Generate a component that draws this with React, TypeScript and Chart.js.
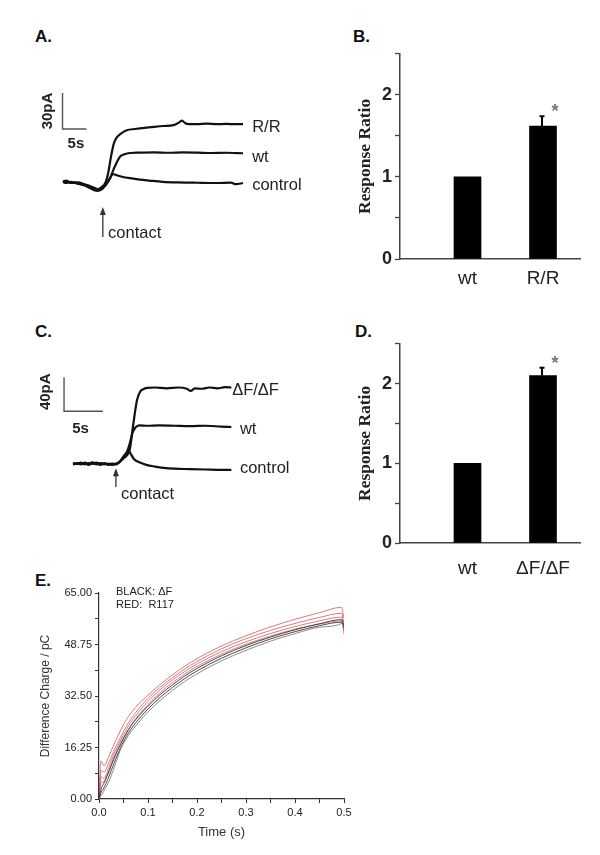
import React, { useEffect, useRef } from "react";
import { Chart, registerables } from "chart.js";
Chart.register(...registerables);

const SANS = "'Liberation Sans', Arial, sans-serif";
const SERIF = "'Liberation Serif', 'Times New Roman', serif";

// ---------- Panel A: current traces (time s, current pA) ----------
const A_RR_T = [0, 0.6, 1.5, 3, 4.5, 5.5, 6.5, 7.3, 8.2, 8.9, 9.4, 10, 10.6, 11.2, 12, 13.3, 15, 17, 19, 21, 23, 24.2, 24.8, 25.4, 26.2, 28, 30, 32, 34, 36, 37.5];
const A_RR_V = [1, 2, 0.5, 0, -1.5, -3, -4.5, -5, -3, 1, 8, 22, 33, 38, 41, 44, 45, 46, 46.8, 47.5, 48.2, 50.5, 52, 50, 49, 49, 49.4, 49, 49.2, 49, 49];
const A_WT_T = [0, 0.6, 1.5, 3, 4.5, 5.5, 6.5, 7.3, 8.2, 9, 9.8, 10.6, 11.3, 11.9, 12.8, 14, 16, 19, 22, 25, 28, 31, 34, 37.5];
const A_WT_V = [0.5, 1.5, 0, 0.5, -1, -2.5, -4, -5.5, -4, -1, 4, 12, 18, 22, 24, 25, 25.3, 25.5, 25.2, 25.5, 25.3, 25, 25.2, 24.8];
const A_CTL_T = [0, 0.6, 1.5, 3, 4.5, 5.5, 6.5, 7.3, 8.2, 9, 9.8, 10.4, 11.2, 12.5, 14, 16, 18, 20.8, 24, 28, 32, 35, 36, 37.5];
const A_CTL_V = [1, 0, 1, -0.5, -2, -4, -6, -6.5, -5, -1, 4, 7.5, 6.5, 5, 4, 2.8, 2, 1, 0.5, 0.2, 0, 0.3, -1, 0];
const A_SCALEBAR_T = [-0.1, -0.1, 4.9]; // 5 s
const A_SCALEBAR_V = [75, 45, 45]; // 30 pA

// ---------- Panel C: current traces ----------
const C_DF_T = [0, 0.5, 1, 1.5, 2, 2.5, 3, 3.5, 4, 4.5, 5, 5.5, 5.9, 6.4, 6.9, 7.3, 7.7, 8.2, 8.6, 9.0, 9.5, 10.5, 12, 13.5, 14.6, 15.1, 15.6, 16.5, 17.5, 18.5, 19.5, 20.3];
const C_DF_V = [0, 1, -0.5, 1.5, 0, 2, 0.5, 1, -0.5, 0.5, -1, 0, 2, 6, 10, 18, 45, 75, 85, 88, 89.5, 90, 89, 90, 88.5, 86, 89, 88.5, 90, 89, 90.5, 90];
const C_WT_T = [0, 0.5, 1, 1.5, 2, 2.5, 3, 3.5, 4, 4.5, 5, 5.5, 5.9, 6.4, 6.9, 7.3, 7.6, 8.0, 8.5, 9.5, 11, 13, 15, 17, 19, 20.3];
const C_WT_V = [1, 0, 1.5, -0.5, 1, 0, 1.5, -1, 0.5, 0, 0.5, -0.5, 2, 7, 14, 25, 36, 43, 45.5, 45, 45.5, 45, 44.5, 45, 44, 43.5];
const C_CTL_T = [0, 0.5, 1, 1.5, 2, 2.5, 3, 3.5, 4, 4.5, 5, 5.5, 5.9, 6.4, 6.9, 7.1, 7.4, 7.8, 8.5, 9.4, 10.5, 11.6, 13, 15, 17, 19, 20.3];
const C_CTL_V = [-0.5, 0.5, 0, 1, -1, 1, -0.5, 0, 1, -1, 0, 0.5, 2, 8, 14, 16, 12, 6, 2, -1, -3, -4.5, -5.5, -6, -6.5, -7, -7];
const C_SCALEBAR_T = [-1.15, -1.15, 3.85]; // 5 s
const C_SCALEBAR_V = [102, 62, 62]; // 40 pA

// ---------- Panel B: response ratio ----------
const B_CATEGORIES = ["wt", "R/R"];
const B_POSITIONS = [1, 2];
const B_VALUES = [1.0, 1.62];
const B_ERRORS = [0, 0.12];
const B_SIGNIFICANT = [false, true];

// ---------- Panel D: response ratio ----------
const D_CATEGORIES = ["wt", "\u0394F/\u0394F"];
const D_POSITIONS = [1, 2];
const D_VALUES = [1.0, 2.1];
const D_ERRORS = [0, 0.1];
const D_SIGNIFICANT = [false, true];

const RATIO_TICKS = [0, 0.5, 1, 1.5, 2, 2.5];

// ---------- Panel E: difference charge ----------
const E_TIME = [0, 0.004, 0.01, 0.02, 0.03, 0.045, 0.06, 0.08, 0.1, 0.125, 0.15, 0.175, 0.2, 0.25, 0.3, 0.35, 0.4, 0.45, 0.495, 0.5];
const E_RED_1 = [0, 12, 10.5, 13.5, 17, 22, 26, 29.8, 32.8, 36.2, 39.2, 41.9, 44.3, 48.3, 51.5, 54.3, 56.7, 58.8, 60.5, 57];
const E_RED_2 = [0, 9, 8.5, 11.5, 15, 19.8, 24, 28.3, 31.8, 35.3, 38.3, 41, 43.4, 47.4, 50.6, 53.2, 55.4, 57.3, 58.6, 55];
const E_RED_3 = [0, 7, 6.5, 10, 14, 18.8, 23, 27.3, 30.8, 34.5, 37.6, 40.2, 42.6, 46.5, 49.6, 52.2, 54.4, 56.2, 57.4, 52];
const E_RED_4 = [0, 5, 5.5, 9, 13, 18, 22, 26.3, 29.8, 33.6, 36.7, 39.4, 41.8, 45.7, 48.8, 51.4, 53.6, 55.2, 56.2, 53];
const E_BLACK_1 = [0, 3, 5, 8.5, 12.5, 17.5, 21.8, 26, 29.3, 33, 36, 38.8, 41.2, 45.2, 48.4, 51.1, 53.4, 55.3, 56.6, 54];
const E_BLACK_2 = [0, 2, 3.5, 7, 11, 16.5, 20.8, 25, 28.4, 32.1, 35.2, 38, 40.4, 44.4, 47.7, 50.5, 52.8, 54.7, 55.8, 55];
const E_BLACK_3 = [0, 1, 2.5, 5.5, 9.5, 16, 20, 24, 27.5, 31.1, 34.3, 37.1, 39.5, 43.6, 46.9, 49.8, 52.2, 54.2, 55.4, 56.5];
const E_X_TICKS = [0, 0.05, 0.1, 0.15, 0.2, 0.25, 0.3, 0.35, 0.4, 0.45, 0.5];
const E_Y_TICKS = [0, 8.125, 16.25, 24.375, 32.5, 40.625, 48.75, 56.875, 65];

const xy = (t: number[], v: number[]) => t.map((x, i) => ({ x, y: v[i] }));

type TextItem = { x: number; y: number; text: string; font: string; align?: CanvasTextAlign; rotate?: number; color?: string };
type ArrowItem = { x: number; from: number; to: number };

function makeAnnot(texts: TextItem[], arrows: ArrowItem[]) {
  return {
    id: "annot",
    afterDatasetsDraw(chart: any) {
      const ctx = chart.ctx as CanvasRenderingContext2D;
      const xs = chart.scales.x;
      const ys = chart.scales.y;
      ctx.save();
      arrows.forEach((a) => {
        const x = xs.getPixelForValue(a.x);
        const y0 = ys.getPixelForValue(a.from);
        const y1 = ys.getPixelForValue(a.to);
        ctx.strokeStyle = "#333";
        ctx.fillStyle = "#333";
        ctx.lineWidth = 1.3;
        ctx.beginPath();
        ctx.moveTo(x, y0);
        ctx.lineTo(x, y1 + 5);
        ctx.stroke();
        ctx.beginPath();
        ctx.moveTo(x, y1);
        ctx.lineTo(x - 3, y1 + 8);
        ctx.lineTo(x + 3, y1 + 8);
        ctx.closePath();
        ctx.fill();
      });
      texts.forEach((t) => {
        const x = xs.getPixelForValue(t.x);
        const y = ys.getPixelForValue(t.y);
        ctx.save();
        ctx.translate(x, y);
        if (t.rotate) ctx.rotate(t.rotate);
        ctx.font = t.font;
        ctx.fillStyle = t.color || "#222";
        ctx.textAlign = t.align || "left";
        ctx.textBaseline = "middle";
        ctx.fillText(t.text, 0, 0);
        ctx.restore();
      });
      ctx.restore();
    },
  };
}

function traceConfig(
  series: { t: number[]; v: number[] }[],
  bar: { t: number[]; v: number[] },
  xr: [number, number],
  yr: [number, number],
  texts: TextItem[],
  arrows: ArrowItem[]
): any {
  return {
    type: "line",
    data: {
      datasets: [
        ...series.map((s) => ({
          data: xy(s.t, s.v),
          borderColor: "#111",
          borderWidth: 2.2,
          pointRadius: 0,
          cubicInterpolationMode: "monotone",
          fill: false,
        })),
        {
          data: xy(bar.t, bar.v),
          borderColor: "#555",
          borderWidth: 1.4,
          pointRadius: 0,
          tension: 0,
          fill: false,
        },
      ],
    },
    options: {
      animation: false,
      responsive: false,
      events: [],
      layout: { padding: 0 },
      plugins: { legend: { display: false }, tooltip: { enabled: false } },
      scales: {
        x: { type: "linear", display: false, min: xr[0], max: xr[1] },
        y: { type: "linear", display: false, min: yr[0], max: yr[1] },
      },
    },
    plugins: [makeAnnot(texts, arrows)],
  };
}

function makeErrorBars(pos: number[], vals: number[], errs: number[], sig: boolean[]) {
  return {
    id: "errbars",
    afterDatasetsDraw(chart: any) {
      const ctx = chart.ctx as CanvasRenderingContext2D;
      const xs = chart.scales.x;
      const ys = chart.scales.y;
      ctx.save();
      pos.forEach((p, i) => {
        const x = xs.getPixelForValue(p) - 1;
        const yTop = ys.getPixelForValue(vals[i]);
        const yErr = ys.getPixelForValue(vals[i] + errs[i]);
        if (errs[i] > 0) {
          ctx.strokeStyle = "#000";
          ctx.lineWidth = 2;
          ctx.beginPath();
          ctx.moveTo(x, yTop);
          ctx.lineTo(x, yErr);
          ctx.moveTo(x - 2.5, yErr);
          ctx.lineTo(x + 2.5, yErr);
          ctx.stroke();
        }
        if (sig[i]) {
          ctx.fillStyle = "#777";
          ctx.font = `bold 18px ${SANS}`;
          ctx.textAlign = "center";
          ctx.textBaseline = "middle";
          ctx.fillText("*", x + 13, yErr - 4);
        }
      });
      ctx.restore();
    },
  };
}

function barConfig(
  cats: string[],
  pos: number[],
  vals: number[],
  errs: number[],
  sig: boolean[],
  padTop: number,
  xHeight: number,
  labelPad: number
): any {
  return {
    type: "bar",
    data: {
      datasets: [
        {
          data: pos.map((x, i) => ({ x, y: vals[i] })),
          backgroundColor: "#000",
          borderWidth: 0,
          barThickness: 27,
        },
      ],
    },
    options: {
      animation: false,
      responsive: false,
      events: [],
      layout: { padding: { top: padTop, right: 20, left: 0, bottom: 0 } },
      plugins: { legend: { display: false }, tooltip: { enabled: false } },
      scales: {
        x: {
          type: "linear",
          min: 0.106,
          max: 2.49,
          offset: false,
          grid: { display: false, drawTicks: false, offset: false },
          border: { display: true, color: "#444", width: 1.5 },
          afterBuildTicks: (s: any) => {
            s.ticks = pos.map((v) => ({ value: v }));
          },
          ticks: {
            autoSkip: false,
            maxRotation: 0,
            padding: labelPad,
            color: "#222",
            font: { family: SANS, size: 19 },
            callback: (v: number) => cats[pos.indexOf(v)] ?? "",
          },
          afterFit: (s: any) => {
            s.height = xHeight;
          },
        },
        y: {
          type: "linear",
          min: 0,
          max: 2.5,
          afterBuildTicks: (s: any) => {
            s.ticks = RATIO_TICKS.map((v) => ({ value: v }));
          },
          grid: {
            display: true,
            drawOnChartArea: false,
            tickLength: 5,
            tickColor: "#444",
            tickWidth: 1.3,
          },
          border: { display: true, color: "#444", width: 1.5 },
          ticks: {
            autoSkip: false,
            padding: 3,
            color: "#222",
            font: { family: SANS, size: 18, weight: "bold" },
            callback: (v: number) => (Number.isInteger(v) && v < 2.5 ? String(v) : ""),
          },
          title: {
            display: true,
            text: "Response Ratio",
            color: "#222",
            font: { family: SERIF, size: 17.5, weight: "bold" },
            padding: { top: 15, bottom: 0 },
          },
          afterFit: (s: any) => {
            s.width = 60;
          },
        },
      },
    },
    plugins: [makeErrorBars(pos, vals, errs, sig)],
  };
}

function eConfig(): any {
  const red = "rgba(205, 80, 90, 0.75)";
  const dark = "rgba(45, 45, 45, 0.85)";
  const grey = "rgba(110, 110, 110, 0.8)";
  const mk = (v: number[], c: string) => ({
    data: xy(E_TIME, v),
    borderColor: c,
    borderWidth: 1,
    pointRadius: 0,
    cubicInterpolationMode: "monotone",
    fill: false,
  });
  return {
    type: "line",
    data: {
      datasets: [
        mk(E_BLACK_3, grey),
        mk(E_BLACK_2, dark),
        mk(E_BLACK_1, dark),
        mk(E_RED_4, red),
        mk(E_RED_3, red),
        mk(E_RED_2, red),
        mk(E_RED_1, red),
      ],
    },
    options: {
      animation: false,
      responsive: false,
      events: [],
      layout: { padding: { top: 18, right: 16, left: 0, bottom: 0 } },
      plugins: { legend: { display: false }, tooltip: { enabled: false } },
      scales: {
        x: {
          type: "linear",
          min: 0,
          max: 0.5,
          afterBuildTicks: (s: any) => {
            s.ticks = E_X_TICKS.map((v) => ({ value: v }));
          },
          grid: { display: true, drawOnChartArea: false, tickLength: 4, tickColor: "#333", tickWidth: 1 },
          border: { display: true, color: "#333", width: 1.2 },
          ticks: {
            autoSkip: false,
            maxRotation: 0,
            padding: 3,
            color: "#222",
            font: { family: SANS, size: 11 },
            callback: (v: number, i: number) => (i % 2 === 0 ? v.toFixed(1) : ""),
          },
          title: {
            display: true,
            text: "Time (s)",
            color: "#333",
            font: { family: SANS, size: 13 },
            padding: { top: 10, bottom: 10 },
          },
          afterFit: (s: any) => {
            s.height = 51;
          },
        },
        y: {
          type: "linear",
          min: 0,
          max: 65,
          afterBuildTicks: (s: any) => {
            s.ticks = E_Y_TICKS.map((v) => ({ value: v }));
          },
          grid: { display: true, drawOnChartArea: false, tickLength: 4, tickColor: "#333", tickWidth: 1 },
          border: { display: true, color: "#333", width: 1.2 },
          ticks: {
            autoSkip: false,
            padding: 3,
            color: "#222",
            font: { family: SANS, size: 11 },
            callback: (v: number, i: number) => (i % 2 === 0 ? v.toFixed(2) : ""),
          },
          title: {
            display: true,
            text: "Difference Charge / pC",
            color: "#333",
            font: { family: SANS, size: 12 },
            padding: { top: 8, bottom: 0 },
          },
          afterFit: (s: any) => {
            s.width = 69;
          },
        },
      },
    },
  };
}

function ChartBox(props: { left: number; top: number; width: number; height: number; make: () => any }) {
  const ref = useRef<HTMLCanvasElement>(null);
  useEffect(() => {
    const chart = new Chart(ref.current as HTMLCanvasElement, props.make());
    return () => chart.destroy();
  }, []);
  const { left, top, width, height } = props;
  return (
    <canvas
      ref={ref}
      width={width}
      height={height}
      style={{ position: "absolute", left, top, width, height }}
    />
  );
}

const traceLabelFont = `16.5px ${SANS}`;
const scaleFont = `bold 15px ${SANS}`;

const makeA = () =>
  traceConfig(
    [
      { t: A_CTL_T, v: A_CTL_V },
      { t: A_WT_T, v: A_WT_V },
      { t: A_RR_T, v: A_RR_V },
    ],
    { t: A_SCALEBAR_T, v: A_SCALEBAR_V },
    [-6.875, 53.54],
    [-64.17, 94.17],
    [
      { x: 39.4, y: 46.7, text: "R/R", font: traceLabelFont },
      { x: 39.4, y: 21.7, text: "wt", font: traceLabelFont },
      { x: 39.4, y: -1.7, text: "control", font: traceLabelFont },
      { x: 9.4, y: -41.7, text: "contact", font: traceLabelFont },
      { x: -3.1, y: 60, text: "30pA", font: scaleFont, align: "center", rotate: -Math.PI / 2 },
      { x: 2.7, y: 32.5, text: "5s", font: scaleFont, align: "center" },
    ],
    [{ x: 8.3, from: -45, to: -20 }]
  );

const makeC = () =>
  traceConfig(
    [
      { t: C_CTL_T, v: C_CTL_V },
      { t: C_WT_T, v: C_WT_V },
      { t: C_DF_T, v: C_DF_V },
    ],
    { t: C_SCALEBAR_T, v: C_SCALEBAR_V },
    [-5.513, 30.38],
    [-77.65, 122.35],
    [
      { x: 20.4, y: 87, text: "\u0394F/\u0394F", font: traceLabelFont },
      { x: 21.4, y: 41, text: "wt", font: traceLabelFont },
      { x: 21.4, y: -4.7, text: "control", font: traceLabelFont },
      { x: 6.15, y: -36, text: "contact", font: traceLabelFont },
      { x: -3.46, y: 85, text: "40pA", font: scaleFont, align: "center", rotate: -Math.PI / 2 },
      { x: 0.96, y: 41.8, text: "5s", font: scaleFont, align: "center" },
    ],
    [{ x: 5.5, from: -27, to: -5 }]
  );

const makeB = () => barConfig(B_CATEGORIES, B_POSITIONS, B_VALUES, B_ERRORS, B_SIGNIFICANT, 13, 41, 8);
const makeD = () => barConfig(D_CATEGORIES, D_POSITIONS, D_VALUES, D_ERRORS, D_SIGNIFICANT, 9, 42, 14);

const letterStyle = (left: number, top: number): React.CSSProperties => ({
  position: "absolute",
  left,
  top,
  fontFamily: SANS,
  fontWeight: "bold",
  fontSize: 17,
  lineHeight: "17px",
  color: "#111",
});

const smallStyle = (left: number, top: number): React.CSSProperties => ({
  position: "absolute",
  left,
  top,
  fontFamily: SANS,
  fontSize: 11,
  lineHeight: "13px",
  color: "#222",
  whiteSpace: "nowrap",
});

export default function App() {
  return (
    <div style={{ position: "absolute", left: 0, top: 0, width: 600, height: 855, background: "#fff", overflow: "hidden" }}>
      <div style={letterStyle(35, 28)}>A.</div>
      <div style={letterStyle(353, 28)}>B.</div>
      <div style={letterStyle(35, 323)}>C.</div>
      <div style={letterStyle(355, 323)}>D.</div>
      <div style={letterStyle(35, 572)}>E.</div>
      <ChartBox left={30} top={70} width={290} height={190} make={makeA} />
      <ChartBox left={340} top={40} width={260} height={260} make={makeB} />
      <ChartBox left={30} top={360} width={280} height={170} make={makeC} />
      <ChartBox left={340} top={330} width={260} height={255} make={makeD} />
      <ChartBox left={30} top={575} width={330} height={275} make={eConfig} />
      <div style={smallStyle(116, 585)}>BLACK: {"\u0394"}F</div>
      <div style={smallStyle(116, 598)}>RED:&nbsp; R117</div>
    </div>
  );
}
